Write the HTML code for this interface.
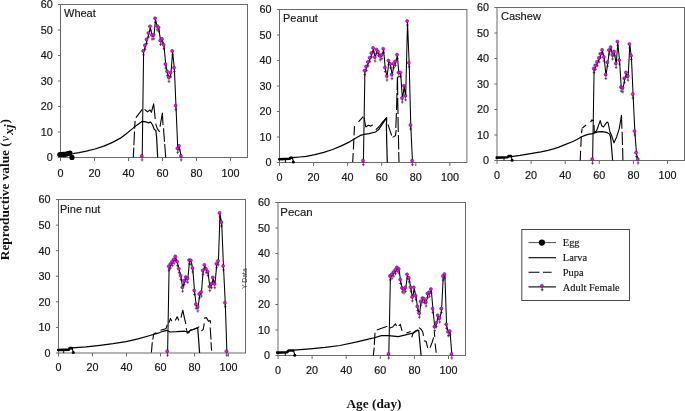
<!DOCTYPE html>
<html lang="en"><head><meta charset="utf-8"><title>Reproductive value by age</title>
<style>html,body{margin:0;padding:0;background:#fff}body{width:685px;height:411px;overflow:hidden}svg{display:block}.t{font-family:"Liberation Sans",Arial,sans-serif;font-size:10.8px;fill:#111;stroke:#222;stroke-width:0.2px}.pl{font-family:"Liberation Sans",Arial,sans-serif;font-size:11px;fill:#111;stroke:#222;stroke-width:0.15px}.s{font-family:"Liberation Serif","Times New Roman",serif;fill:#111}</style></head><body>
<svg width="685" height="411" viewBox="0 0 685 411">
<rect width="685" height="411" fill="#fff"/>
<g>
<rect x="60.5" y="4.5" width="187" height="153" fill="none" stroke="#6a6a6a" stroke-width="1"/>
<path d="M60.5 157.5h-2.6M60.5 132h-2.6M60.5 106.5h-2.6M60.5 81h-2.6M60.5 55.5h-2.6M60.5 30h-2.6M60.5 4.5h-2.6M60.5 157.5v3.5M94.5 157.5v3.5M128.5 157.5v3.5M162.5 157.5v3.5M196.5 157.5v3.5M230.5 157.5v3.5" stroke="#6a6a6a" stroke-width="1" fill="none"/>
<text class="t" x="52.7" y="161.4" text-anchor="end">0</text>
<text class="t" x="52.7" y="135.9" text-anchor="end">10</text>
<text class="t" x="52.7" y="110.4" text-anchor="end">20</text>
<text class="t" x="52.7" y="84.9" text-anchor="end">30</text>
<text class="t" x="52.7" y="59.4" text-anchor="end">40</text>
<text class="t" x="52.7" y="33.9" text-anchor="end">50</text>
<text class="t" x="52.7" y="8.4" text-anchor="end">60</text>
<text class="t" x="60.5" y="176.9" text-anchor="middle">0</text>
<text class="t" x="94.5" y="176.9" text-anchor="middle">20</text>
<text class="t" x="128.5" y="176.9" text-anchor="middle">40</text>
<text class="t" x="162.5" y="176.9" text-anchor="middle">60</text>
<text class="t" x="196.5" y="176.9" text-anchor="middle">80</text>
<text class="t" x="230.5" y="176.9" text-anchor="middle">100</text>
<text class="pl" x="64" y="16.6" style="font-size:11px">Wheat</text>
<polyline points="59.8,154.5 61.5,154.5 63.2,154.4 64.9,154.3 66.6,154 68.3,153.5 70,153.2 72,157.4" fill="none" stroke="#000" stroke-width="0.8"/>
<circle cx="59.8" cy="154.5" r="2.6" fill="#000"/>
<circle cx="61.5" cy="154.5" r="2.6" fill="#000"/>
<circle cx="63.2" cy="154.4" r="2.6" fill="#000"/>
<circle cx="64.9" cy="154.3" r="2.6" fill="#000"/>
<circle cx="66.6" cy="154" r="2.6" fill="#000"/>
<circle cx="68.3" cy="153.5" r="2.6" fill="#000"/>
<circle cx="70" cy="153.2" r="2.6" fill="#000"/>
<circle cx="72" cy="157.4" r="2.6" fill="#000"/>
<polyline points="72.7,153.6 79,152.6 86.3,151.2 95,149 103.8,146.1 112.6,142.4 121.3,137.6 126,134 130.1,130.6 137.1,124.9 142.3,121.3 145.8,121.9 148.3,122.8 150.8,122.2 152.6,125 154.2,129.2 155.8,130.4 156.6,137.2 157.7,157.5" fill="none" stroke="#000" stroke-width="1.2" stroke-linejoin="round"/>
<path d="M133.3 157.5L133.8 147.6M133.9 145.3L134.5 131.6M134.6 128.6L135.1 121M135.9 117.6L142.3 109.3M144.5 109.6L145.4 110L147.6 111.9L149.9 109.8L151.4 112.3L153.7 103.7L155.2 119.1M155.6 123.6L157.4 128.9L159.7 131.9M160 126.7L162.4 113.1L163 125M163.5 128.2L164.5 141.7M164.7 144L165.7 157.5" fill="none" stroke="#000" stroke-width="1.1" stroke-linejoin="round"/>
<polyline points="142.2,157.1 143.6,52.1 145.3,46.4 146.9,40.6 148.7,34.2 150.4,27.5 152.2,36.2 154,36 155.5,19.4 157.3,27 158.9,28.4 160.6,41.6 162.4,40.1 164,45.9 165.8,65.2 167.5,72.6 169.1,78.5 170.9,73.9 172.6,52.1 174.4,68.8 176,106.8 177.8,149.5 179.4,147.1 181.3,157.1" fill="none" stroke="#000" stroke-width="1.05" stroke-linejoin="round"/>
<path d="M142.1 157.5v4M140.8 159.9h2.6M143.5 52.5v4M142.2 54.9h2.6M145.2 46.8v4M143.9 49.2h2.6M146.8 41v4M145.5 43.4h2.6M148.6 34.6v4M147.3 37h2.6M150.3 27.9v4M149 30.3h2.6M152.1 36.6v4M150.8 39h2.6M153.9 36.4v4M152.6 38.8h2.6M155.4 19.8v4M154.1 22.2h2.6M157.2 27.4v4M155.9 29.8h2.6M158.8 28.8v4M157.5 31.2h2.6M160.5 42v4M159.2 44.4h2.6M162.3 40.5v4M161 42.9h2.6M163.9 46.3v4M162.6 48.7h2.6M165.7 65.6v4M164.4 68h2.6M167.4 73v4M166.1 75.4h2.6M169 78.9v4M167.7 81.3h2.6M170.8 74.3v4M169.5 76.7h2.6M172.5 52.5v4M171.2 54.9h2.6M174.3 69.2v4M173 71.6h2.6M175.9 107.2v4M174.6 109.6h2.6M177.7 149.9v4M176.4 152.3h2.6M179.3 147.5v4M178 149.9h2.6M181.2 157.5v4M179.9 159.9h2.6" stroke="#111" stroke-width="0.65" fill="none"/>
<circle cx="141.8" cy="155.9" r="1.55" fill="#f0f" stroke="#404" stroke-width="0.45"/>
<circle cx="143.2" cy="50.9" r="1.55" fill="#f0f" stroke="#404" stroke-width="0.45"/>
<circle cx="144.9" cy="45.2" r="1.55" fill="#f0f" stroke="#404" stroke-width="0.45"/>
<circle cx="146.5" cy="39.4" r="1.55" fill="#f0f" stroke="#404" stroke-width="0.45"/>
<circle cx="148.3" cy="33" r="1.55" fill="#f0f" stroke="#404" stroke-width="0.45"/>
<circle cx="150" cy="26.3" r="1.55" fill="#f0f" stroke="#404" stroke-width="0.45"/>
<circle cx="151.8" cy="35" r="1.55" fill="#f0f" stroke="#404" stroke-width="0.45"/>
<circle cx="153.6" cy="34.8" r="1.55" fill="#f0f" stroke="#404" stroke-width="0.45"/>
<circle cx="155.1" cy="18.2" r="1.55" fill="#f0f" stroke="#404" stroke-width="0.45"/>
<circle cx="156.9" cy="25.8" r="1.55" fill="#f0f" stroke="#404" stroke-width="0.45"/>
<circle cx="158.5" cy="27.2" r="1.55" fill="#f0f" stroke="#404" stroke-width="0.45"/>
<circle cx="160.2" cy="40.4" r="1.55" fill="#f0f" stroke="#404" stroke-width="0.45"/>
<circle cx="162" cy="38.9" r="1.55" fill="#f0f" stroke="#404" stroke-width="0.45"/>
<circle cx="163.6" cy="44.7" r="1.55" fill="#f0f" stroke="#404" stroke-width="0.45"/>
<circle cx="165.4" cy="64" r="1.55" fill="#f0f" stroke="#404" stroke-width="0.45"/>
<circle cx="167.1" cy="71.4" r="1.55" fill="#f0f" stroke="#404" stroke-width="0.45"/>
<circle cx="168.7" cy="77.3" r="1.55" fill="#f0f" stroke="#404" stroke-width="0.45"/>
<circle cx="170.5" cy="72.7" r="1.55" fill="#f0f" stroke="#404" stroke-width="0.45"/>
<circle cx="172.2" cy="50.9" r="1.55" fill="#f0f" stroke="#404" stroke-width="0.45"/>
<circle cx="174" cy="67.6" r="1.55" fill="#f0f" stroke="#404" stroke-width="0.45"/>
<circle cx="175.6" cy="105.6" r="1.55" fill="#f0f" stroke="#404" stroke-width="0.45"/>
<circle cx="177.4" cy="148.3" r="1.55" fill="#f0f" stroke="#404" stroke-width="0.45"/>
<circle cx="179" cy="145.9" r="1.55" fill="#f0f" stroke="#404" stroke-width="0.45"/>
<circle cx="180.9" cy="155.9" r="1.55" fill="#f0f" stroke="#404" stroke-width="0.45"/>
</g>
<g>
<rect x="279.5" y="9.5" width="187.4" height="153" fill="none" stroke="#6a6a6a" stroke-width="1"/>
<path d="M279.5 162.5h-2.6M279.5 137h-2.6M279.5 111.5h-2.6M279.5 86h-2.6M279.5 60.5h-2.6M279.5 35h-2.6M279.5 9.5h-2.6M279.5 162.5v3.5M313.6 162.5v3.5M347.6 162.5v3.5M381.7 162.5v3.5M415.8 162.5v3.5M449.9 162.5v3.5" stroke="#6a6a6a" stroke-width="1" fill="none"/>
<text class="t" x="271.4" y="166.4" text-anchor="end">0</text>
<text class="t" x="271.4" y="140.9" text-anchor="end">10</text>
<text class="t" x="271.4" y="115.4" text-anchor="end">20</text>
<text class="t" x="271.4" y="89.9" text-anchor="end">30</text>
<text class="t" x="271.4" y="64.4" text-anchor="end">40</text>
<text class="t" x="271.4" y="38.9" text-anchor="end">50</text>
<text class="t" x="271.4" y="13.4" text-anchor="end">60</text>
<text class="t" x="279.5" y="181" text-anchor="middle">0</text>
<text class="t" x="313.6" y="181" text-anchor="middle">20</text>
<text class="t" x="347.6" y="181" text-anchor="middle">40</text>
<text class="t" x="381.7" y="181" text-anchor="middle">60</text>
<text class="t" x="415.8" y="181" text-anchor="middle">80</text>
<text class="t" x="449.9" y="181" text-anchor="middle">100</text>
<text class="pl" x="283" y="21.5" style="font-size:11px">Peanut</text>
<path d="M279.2 159.2L289.6 158.8L290.3 157.7H292" fill="none" stroke="#000" stroke-width="2.6" stroke-linejoin="round" stroke-linecap="round"/>
<path d="M292.2 157.2L293.4 162" fill="none" stroke="#000" stroke-width="1.1"/>
<circle cx="293.4" cy="162" r="1.5" fill="#000"/>
<path d="M285.4 159.7V162.5" stroke="#000" stroke-width="1" fill="none"/>
<polyline points="292.4,157.7 300,157 306.3,156.3 315,154.7 323.8,152.4 332.6,149.5 341.3,145.9 350.1,141.6 355,138.6 360.3,135.4 364.1,134.3 369.1,133.6 375.5,132 378.7,129.6 382.8,123.4 385.2,119.8 386.7,117.6 386.4,125 386.7,141 387.3,162.5" fill="none" stroke="#000" stroke-width="1.2" stroke-linejoin="round"/>
<path d="M352.7 162L353.2 153M353.4 149.5L353.9 138.5M354 135.4L354.5 126.1M358.5 121.8L363.2 116.6M364 117.5L365.8 127L368.3 125.3L370.9 126.1L372.7 124.7M375.8 129.6L378.7 127L382.2 122.7L386.5 117.5M387.9 124.4L391.7 135.6M392.6 137.4L395.5 135.6L396.2 130M395.8 128L396.4 113M396.5 110L397 93M397.1 90L397.4 77M397.5 77L397.7 95M397.7 98L398 114M398 117L398.3 132M398.4 135L398.7 149.5M398.7 152L399 162" fill="none" stroke="#000" stroke-width="1.1" stroke-linejoin="round"/>
<polyline points="363.4,161.8 364.9,71.8 366.5,67.6 368.3,63.1 370,58.9 371.7,54.2 373.5,49.1 375.1,58.2 376.8,50.7 378.5,52.8 380.3,57 382,55.9 383.6,49.9 385.3,68.7 387.1,77.2 388.8,61.7 390.6,65 392.1,75.8 393.9,64.9 395.6,62.5 397.4,55.8 398.9,73.7 400.7,73.7 402.4,99.2 404.2,87 405.7,97 407.5,22.3 409.2,64 410.8,126.2 412.5,161.8" fill="none" stroke="#000" stroke-width="1.05" stroke-linejoin="round"/>
<path d="M363.3 162.2v4M362 164.6h2.6M364.8 72.2v4M363.5 74.6h2.6M366.4 68v4M365.1 70.4h2.6M368.2 63.5v4M366.9 65.9h2.6M369.9 59.3v4M368.6 61.7h2.6M371.6 54.6v4M370.3 57h2.6M373.4 49.5v4M372.1 51.9h2.6M375 58.6v4M373.7 61h2.6M376.7 51.1v4M375.4 53.5h2.6M378.4 53.2v4M377.1 55.6h2.6M380.2 57.4v4M378.9 59.8h2.6M381.9 56.3v4M380.6 58.7h2.6M383.5 50.3v4M382.2 52.7h2.6M385.2 69.1v4M383.9 71.5h2.6M387 77.6v4M385.7 80h2.6M388.7 62.1v4M387.4 64.5h2.6M390.5 65.4v4M389.2 67.8h2.6M392 76.2v4M390.7 78.6h2.6M393.8 65.3v4M392.5 67.7h2.6M395.5 62.9v4M394.2 65.3h2.6M397.3 56.2v4M396 58.6h2.6M398.8 74.1v4M397.5 76.5h2.6M400.6 74.1v4M399.3 76.5h2.6M402.3 99.6v4M401 102h2.6M404.1 87.4v4M402.8 89.8h2.6M405.6 97.4v4M404.3 99.8h2.6M407.4 22.7v4M406.1 25.1h2.6M409.1 64.4v4M407.8 66.8h2.6M410.7 126.6v4M409.4 129h2.6M412.4 162.2v4M411.1 164.6h2.6" stroke="#111" stroke-width="0.65" fill="none"/>
<circle cx="363" cy="160.6" r="1.55" fill="#f0f" stroke="#404" stroke-width="0.45"/>
<circle cx="364.5" cy="70.6" r="1.55" fill="#f0f" stroke="#404" stroke-width="0.45"/>
<circle cx="366.1" cy="66.4" r="1.55" fill="#f0f" stroke="#404" stroke-width="0.45"/>
<circle cx="367.9" cy="61.9" r="1.55" fill="#f0f" stroke="#404" stroke-width="0.45"/>
<circle cx="369.6" cy="57.7" r="1.55" fill="#f0f" stroke="#404" stroke-width="0.45"/>
<circle cx="371.3" cy="53" r="1.55" fill="#f0f" stroke="#404" stroke-width="0.45"/>
<circle cx="373.1" cy="47.9" r="1.55" fill="#f0f" stroke="#404" stroke-width="0.45"/>
<circle cx="374.7" cy="57" r="1.55" fill="#f0f" stroke="#404" stroke-width="0.45"/>
<circle cx="376.4" cy="49.5" r="1.55" fill="#f0f" stroke="#404" stroke-width="0.45"/>
<circle cx="378.1" cy="51.6" r="1.55" fill="#f0f" stroke="#404" stroke-width="0.45"/>
<circle cx="379.9" cy="55.8" r="1.55" fill="#f0f" stroke="#404" stroke-width="0.45"/>
<circle cx="381.6" cy="54.7" r="1.55" fill="#f0f" stroke="#404" stroke-width="0.45"/>
<circle cx="383.2" cy="48.7" r="1.55" fill="#f0f" stroke="#404" stroke-width="0.45"/>
<circle cx="384.9" cy="67.5" r="1.55" fill="#f0f" stroke="#404" stroke-width="0.45"/>
<circle cx="386.7" cy="76" r="1.55" fill="#f0f" stroke="#404" stroke-width="0.45"/>
<circle cx="388.4" cy="60.5" r="1.55" fill="#f0f" stroke="#404" stroke-width="0.45"/>
<circle cx="390.2" cy="63.8" r="1.55" fill="#f0f" stroke="#404" stroke-width="0.45"/>
<circle cx="391.7" cy="74.6" r="1.55" fill="#f0f" stroke="#404" stroke-width="0.45"/>
<circle cx="393.5" cy="63.7" r="1.55" fill="#f0f" stroke="#404" stroke-width="0.45"/>
<circle cx="395.2" cy="61.3" r="1.55" fill="#f0f" stroke="#404" stroke-width="0.45"/>
<circle cx="397" cy="54.6" r="1.55" fill="#f0f" stroke="#404" stroke-width="0.45"/>
<circle cx="398.5" cy="72.5" r="1.55" fill="#f0f" stroke="#404" stroke-width="0.45"/>
<circle cx="400.3" cy="72.5" r="1.55" fill="#f0f" stroke="#404" stroke-width="0.45"/>
<circle cx="402" cy="98" r="1.55" fill="#f0f" stroke="#404" stroke-width="0.45"/>
<circle cx="403.8" cy="85.8" r="1.55" fill="#f0f" stroke="#404" stroke-width="0.45"/>
<circle cx="405.3" cy="95.8" r="1.55" fill="#f0f" stroke="#404" stroke-width="0.45"/>
<circle cx="407.1" cy="21.1" r="1.55" fill="#f0f" stroke="#404" stroke-width="0.45"/>
<circle cx="408.8" cy="62.8" r="1.55" fill="#f0f" stroke="#404" stroke-width="0.45"/>
<circle cx="410.4" cy="125" r="1.55" fill="#f0f" stroke="#404" stroke-width="0.45"/>
<circle cx="412.1" cy="160.6" r="1.55" fill="#f0f" stroke="#404" stroke-width="0.45"/>
</g>
<g>
<rect x="497" y="7.5" width="187.5" height="153" fill="none" stroke="#6a6a6a" stroke-width="1"/>
<path d="M497 160.5h-2.6M497 135h-2.6M497 109.5h-2.6M497 84h-2.6M497 58.5h-2.6M497 33h-2.6M497 7.5h-2.6M497 160.5v3.5M531.1 160.5v3.5M565.2 160.5v3.5M599.3 160.5v3.5M633.4 160.5v3.5M667.5 160.5v3.5" stroke="#6a6a6a" stroke-width="1" fill="none"/>
<text class="t" x="488.9" y="164.4" text-anchor="end">0</text>
<text class="t" x="488.9" y="138.9" text-anchor="end">10</text>
<text class="t" x="488.9" y="113.4" text-anchor="end">20</text>
<text class="t" x="488.9" y="87.9" text-anchor="end">30</text>
<text class="t" x="488.9" y="62.4" text-anchor="end">40</text>
<text class="t" x="488.9" y="36.9" text-anchor="end">50</text>
<text class="t" x="488.9" y="11.4" text-anchor="end">60</text>
<text class="t" x="497" y="179" text-anchor="middle">0</text>
<text class="t" x="531.1" y="179" text-anchor="middle">20</text>
<text class="t" x="565.2" y="179" text-anchor="middle">40</text>
<text class="t" x="599.3" y="179" text-anchor="middle">60</text>
<text class="t" x="633.4" y="179" text-anchor="middle">80</text>
<text class="t" x="667.5" y="179" text-anchor="middle">100</text>
<text class="pl" x="500.9" y="19.5" style="font-size:11.1px">Cashew</text>
<path d="M496.7 157.6L507.6 157.2L508.6 156.1H510.8" fill="none" stroke="#000" stroke-width="2.6" stroke-linejoin="round" stroke-linecap="round"/>
<path d="M511 155.6L512.1 160.2" fill="none" stroke="#000" stroke-width="1.1"/>
<circle cx="512.1" cy="160.2" r="1.5" fill="#000"/>
<path d="M504 158.1V160.5" stroke="#000" stroke-width="1" fill="none"/>
<polyline points="511.5,156.6 520,155.4 532,153.4 541,151.8 548,150.3 553.5,148.9 558.3,147.4 564.4,144.9 572.3,141.8 577,139.5 581.1,137 585,135.4 588.1,134.4 592.5,133.6 597.7,131.9 602.1,131.6 606.5,132.3 609.5,134 610.6,137 611.6,148 612.6,160.5" fill="none" stroke="#000" stroke-width="1.2" stroke-linejoin="round"/>
<path d="M580.2 160.5L580.6 150.8M580.8 146.8L581.3 136.5M581.5 133.3L582.1 128.6M582.4 128L586.1 125M590.6 122.1L592 119.9L593.2 121M594 125L594.3 132.5L596.5 131L600.2 120.6L601.7 125.8L603.5 127L606.9 122.1L608.1 122.8L609.9 131.7L611.4 135L614 142.9L616.6 137L619.2 128.8L621.5 115.4L621.9 128.8M622.1 131.7L622.5 145.1M622.6 148.1L622.9 160.2" fill="none" stroke="#000" stroke-width="1.1" stroke-linejoin="round"/>
<polyline points="592.6,160.3 594.1,69.7 595.7,66.5 597.4,62.9 599.2,59.1 600.7,55 602.5,51 604.2,58.1 606,75.7 607.7,63.4 609.3,51.2 611,48.3 612.8,56.2 614.5,52.6 616.2,64.6 617.8,42.8 619.6,61.3 621.3,88.3 623,89 624.6,79.5 626.4,73.6 628.1,77.3 629.8,45.2 631.4,56.7 633.1,95.2 634.9,132.2 636.5,153.8 638.2,160.2" fill="none" stroke="#000" stroke-width="1.05" stroke-linejoin="round"/>
<path d="M592.5 160.7v4M591.2 163.1h2.6M594 70.1v4M592.7 72.5h2.6M595.6 66.9v4M594.3 69.3h2.6M597.3 63.3v4M596 65.7h2.6M599.1 59.5v4M597.8 61.9h2.6M600.6 55.4v4M599.3 57.8h2.6M602.4 51.4v4M601.1 53.8h2.6M604.1 58.5v4M602.8 60.9h2.6M605.9 76.1v4M604.6 78.5h2.6M607.6 63.8v4M606.3 66.2h2.6M609.2 51.6v4M607.9 54h2.6M610.9 48.7v4M609.6 51.1h2.6M612.7 56.6v4M611.4 59h2.6M614.4 53v4M613.1 55.4h2.6M616.1 65v4M614.8 67.4h2.6M617.7 43.2v4M616.4 45.6h2.6M619.5 61.7v4M618.2 64.1h2.6M621.2 88.7v4M619.9 91.1h2.6M622.9 89.4v4M621.6 91.8h2.6M624.5 79.9v4M623.2 82.3h2.6M626.3 74v4M625 76.4h2.6M628 77.7v4M626.7 80.1h2.6M629.7 45.6v4M628.4 48h2.6M631.3 57.1v4M630 59.5h2.6M633 95.6v4M631.7 98h2.6M634.8 132.6v4M633.5 135h2.6M636.4 154.2v4M635.1 156.6h2.6M638.1 160.6v4M636.8 163h2.6" stroke="#111" stroke-width="0.65" fill="none"/>
<circle cx="592.2" cy="159.1" r="1.55" fill="#f0f" stroke="#404" stroke-width="0.45"/>
<circle cx="593.7" cy="68.5" r="1.55" fill="#f0f" stroke="#404" stroke-width="0.45"/>
<circle cx="595.3" cy="65.3" r="1.55" fill="#f0f" stroke="#404" stroke-width="0.45"/>
<circle cx="597" cy="61.7" r="1.55" fill="#f0f" stroke="#404" stroke-width="0.45"/>
<circle cx="598.8" cy="57.9" r="1.55" fill="#f0f" stroke="#404" stroke-width="0.45"/>
<circle cx="600.3" cy="53.8" r="1.55" fill="#f0f" stroke="#404" stroke-width="0.45"/>
<circle cx="602.1" cy="49.8" r="1.55" fill="#f0f" stroke="#404" stroke-width="0.45"/>
<circle cx="603.8" cy="56.9" r="1.55" fill="#f0f" stroke="#404" stroke-width="0.45"/>
<circle cx="605.6" cy="74.5" r="1.55" fill="#f0f" stroke="#404" stroke-width="0.45"/>
<circle cx="607.3" cy="62.2" r="1.55" fill="#f0f" stroke="#404" stroke-width="0.45"/>
<circle cx="608.9" cy="50" r="1.55" fill="#f0f" stroke="#404" stroke-width="0.45"/>
<circle cx="610.6" cy="47.1" r="1.55" fill="#f0f" stroke="#404" stroke-width="0.45"/>
<circle cx="612.4" cy="55" r="1.55" fill="#f0f" stroke="#404" stroke-width="0.45"/>
<circle cx="614.1" cy="51.4" r="1.55" fill="#f0f" stroke="#404" stroke-width="0.45"/>
<circle cx="615.8" cy="63.4" r="1.55" fill="#f0f" stroke="#404" stroke-width="0.45"/>
<circle cx="617.4" cy="41.6" r="1.55" fill="#f0f" stroke="#404" stroke-width="0.45"/>
<circle cx="619.2" cy="60.1" r="1.55" fill="#f0f" stroke="#404" stroke-width="0.45"/>
<circle cx="620.9" cy="87.1" r="1.55" fill="#f0f" stroke="#404" stroke-width="0.45"/>
<circle cx="622.6" cy="87.8" r="1.55" fill="#f0f" stroke="#404" stroke-width="0.45"/>
<circle cx="624.2" cy="78.3" r="1.55" fill="#f0f" stroke="#404" stroke-width="0.45"/>
<circle cx="626" cy="72.4" r="1.55" fill="#f0f" stroke="#404" stroke-width="0.45"/>
<circle cx="627.7" cy="76.1" r="1.55" fill="#f0f" stroke="#404" stroke-width="0.45"/>
<circle cx="629.4" cy="44" r="1.55" fill="#f0f" stroke="#404" stroke-width="0.45"/>
<circle cx="631" cy="55.5" r="1.55" fill="#f0f" stroke="#404" stroke-width="0.45"/>
<circle cx="632.7" cy="94" r="1.55" fill="#f0f" stroke="#404" stroke-width="0.45"/>
<circle cx="634.5" cy="131" r="1.55" fill="#f0f" stroke="#404" stroke-width="0.45"/>
<circle cx="636.1" cy="152.6" r="1.55" fill="#f0f" stroke="#404" stroke-width="0.45"/>
<circle cx="637.8" cy="159" r="1.55" fill="#f0f" stroke="#404" stroke-width="0.45"/>
</g>
<g>
<rect x="58.5" y="199.5" width="187" height="153.5" fill="none" stroke="#6a6a6a" stroke-width="1"/>
<path d="M58.5 353h-2.6M58.5 327.4h-2.6M58.5 301.8h-2.6M58.5 276.2h-2.6M58.5 250.7h-2.6M58.5 225.1h-2.6M58.5 199.5h-2.6M58.5 353v3.5M92.5 353v3.5M126.5 353v3.5M160.5 353v3.5M194.5 353v3.5M228.5 353v3.5" stroke="#6a6a6a" stroke-width="1" fill="none"/>
<text class="t" x="50.5" y="356.9" text-anchor="end">0</text>
<text class="t" x="50.5" y="331.3" text-anchor="end">10</text>
<text class="t" x="50.5" y="305.7" text-anchor="end">20</text>
<text class="t" x="50.5" y="280.1" text-anchor="end">30</text>
<text class="t" x="50.5" y="254.6" text-anchor="end">40</text>
<text class="t" x="50.5" y="229" text-anchor="end">50</text>
<text class="t" x="50.5" y="203.4" text-anchor="end">60</text>
<text class="t" x="58.5" y="371.3" text-anchor="middle">0</text>
<text class="t" x="92.5" y="371.3" text-anchor="middle">20</text>
<text class="t" x="126.5" y="371.3" text-anchor="middle">40</text>
<text class="t" x="160.5" y="371.3" text-anchor="middle">60</text>
<text class="t" x="194.5" y="371.3" text-anchor="middle">80</text>
<text class="t" x="228.5" y="371.3" text-anchor="middle">100</text>
<text class="pl" x="60" y="212.7" style="font-size:11px">Pine nut</text>
<path d="M58.2 350L69 349.6L69.6 348.1H71.8" fill="none" stroke="#000" stroke-width="2.6" stroke-linejoin="round" stroke-linecap="round"/>
<path d="M72 347.6L73.3 352.4" fill="none" stroke="#000" stroke-width="1.1"/>
<circle cx="73.3" cy="352.4" r="1.5" fill="#000"/>
<path d="M63.7 350.5V353" stroke="#000" stroke-width="1" fill="none"/>
<polyline points="72.4,347.9 86,346.9 100,345.3 113,343.6 126,341.6 138,338.8 150,335.5 158,333.2 163,331.3 166.6,330.3 170.1,332 176.3,331.7 181,331.3 185,331.2 187.7,332.2 190.3,330.4 194,329.2 197.7,328 198.5,338 199.6,353" fill="none" stroke="#000" stroke-width="1.2" stroke-linejoin="round"/>
<path d="M151.4 352.5L152.3 342.3M152.8 339.5L153.7 333.9L156.3 332.7M160.5 330.3L164.8 328.9L166.2 328.2L167.3 324.7M169 322.6L170.4 318.3L171.8 321.2M175.3 320.5L177.2 316.7L178.9 320.5M181 317.6L182.8 310.2L184.5 318.3L185.9 324M186.2 328.2L187.3 333.2L189 332.5L190.2 330.3L193 329.5L196 328.3L199.3 326.8M201.4 331L203.1 329.6L204.3 323.3M204 318.3L206.4 317.6L208.5 321.2L210.2 320.5L210.6 323.3M210.2 327.5L211 339.5M211 342.3L211.6 350.8" fill="none" stroke="#000" stroke-width="1.1" stroke-linejoin="round"/>
<polyline points="167.6,352.4 169.1,267.5 170.7,265.2 172.4,262.8 174.2,260.4 175.7,257.6 177.5,262.8 179.2,269.9 181,276.7 182.7,288.4 184.3,281.8 186,278.3 187.8,279.4 189.5,261.2 191.2,261.5 192.8,269.1 194.6,291.7 196.3,305.5 198,308.2 199.6,295.2 201.4,293.3 203.1,271.5 204.8,266 206.4,269.9 208.1,272.8 209.9,287.8 211.6,284.9 213.2,278.6 214.9,284.9 216.7,264.9 218.4,262 220,214.1 221.7,223.3 223.5,267.1 225.3,303.9 226.9,352.4" fill="none" stroke="#000" stroke-width="1.05" stroke-linejoin="round"/>
<path d="M167.5 352.8v4M166.2 355.2h2.6M169 267.9v4M167.7 270.3h2.6M170.6 265.6v4M169.3 268h2.6M172.3 263.2v4M171 265.6h2.6M174.1 260.8v4M172.8 263.2h2.6M175.6 258v4M174.3 260.4h2.6M177.4 263.2v4M176.1 265.6h2.6M179.1 270.3v4M177.8 272.7h2.6M180.9 277.1v4M179.6 279.5h2.6M182.6 288.8v4M181.3 291.2h2.6M184.2 282.2v4M182.9 284.6h2.6M185.9 278.7v4M184.6 281.1h2.6M187.7 279.8v4M186.4 282.2h2.6M189.4 261.6v4M188.1 264h2.6M191.1 261.9v4M189.8 264.3h2.6M192.7 269.5v4M191.4 271.9h2.6M194.5 292.1v4M193.2 294.5h2.6M196.2 305.9v4M194.9 308.3h2.6M197.9 308.6v4M196.6 311h2.6M199.5 295.6v4M198.2 298h2.6M201.3 293.7v4M200 296.1h2.6M203 271.9v4M201.7 274.3h2.6M204.7 266.4v4M203.4 268.8h2.6M206.3 270.3v4M205 272.7h2.6M208 273.2v4M206.7 275.6h2.6M209.8 288.2v4M208.5 290.6h2.6M211.5 285.3v4M210.2 287.7h2.6M213.1 279v4M211.8 281.4h2.6M214.8 285.3v4M213.5 287.7h2.6M216.6 265.3v4M215.3 267.7h2.6M218.3 262.4v4M217 264.8h2.6M219.9 214.5v4M218.6 216.9h2.6M221.6 223.7v4M220.3 226.1h2.6M223.4 267.5v4M222.1 269.9h2.6M225.2 304.3v4M223.9 306.7h2.6M226.8 352.8v4M225.5 355.2h2.6" stroke="#111" stroke-width="0.65" fill="none"/>
<circle cx="167.2" cy="351.2" r="1.55" fill="#f0f" stroke="#404" stroke-width="0.45"/>
<circle cx="168.7" cy="266.3" r="1.55" fill="#f0f" stroke="#404" stroke-width="0.45"/>
<circle cx="170.3" cy="264" r="1.55" fill="#f0f" stroke="#404" stroke-width="0.45"/>
<circle cx="172" cy="261.6" r="1.55" fill="#f0f" stroke="#404" stroke-width="0.45"/>
<circle cx="173.8" cy="259.2" r="1.55" fill="#f0f" stroke="#404" stroke-width="0.45"/>
<circle cx="175.3" cy="256.4" r="1.55" fill="#f0f" stroke="#404" stroke-width="0.45"/>
<circle cx="177.1" cy="261.6" r="1.55" fill="#f0f" stroke="#404" stroke-width="0.45"/>
<circle cx="178.8" cy="268.7" r="1.55" fill="#f0f" stroke="#404" stroke-width="0.45"/>
<circle cx="180.6" cy="275.5" r="1.55" fill="#f0f" stroke="#404" stroke-width="0.45"/>
<circle cx="182.3" cy="287.2" r="1.55" fill="#f0f" stroke="#404" stroke-width="0.45"/>
<circle cx="183.9" cy="280.6" r="1.55" fill="#f0f" stroke="#404" stroke-width="0.45"/>
<circle cx="185.6" cy="277.1" r="1.55" fill="#f0f" stroke="#404" stroke-width="0.45"/>
<circle cx="187.4" cy="278.2" r="1.55" fill="#f0f" stroke="#404" stroke-width="0.45"/>
<circle cx="189.1" cy="260" r="1.55" fill="#f0f" stroke="#404" stroke-width="0.45"/>
<circle cx="190.8" cy="260.3" r="1.55" fill="#f0f" stroke="#404" stroke-width="0.45"/>
<circle cx="192.4" cy="267.9" r="1.55" fill="#f0f" stroke="#404" stroke-width="0.45"/>
<circle cx="194.2" cy="290.5" r="1.55" fill="#f0f" stroke="#404" stroke-width="0.45"/>
<circle cx="195.9" cy="304.3" r="1.55" fill="#f0f" stroke="#404" stroke-width="0.45"/>
<circle cx="197.6" cy="307" r="1.55" fill="#f0f" stroke="#404" stroke-width="0.45"/>
<circle cx="199.2" cy="294" r="1.55" fill="#f0f" stroke="#404" stroke-width="0.45"/>
<circle cx="201" cy="292.1" r="1.55" fill="#f0f" stroke="#404" stroke-width="0.45"/>
<circle cx="202.7" cy="270.3" r="1.55" fill="#f0f" stroke="#404" stroke-width="0.45"/>
<circle cx="204.4" cy="264.8" r="1.55" fill="#f0f" stroke="#404" stroke-width="0.45"/>
<circle cx="206" cy="268.7" r="1.55" fill="#f0f" stroke="#404" stroke-width="0.45"/>
<circle cx="207.7" cy="271.6" r="1.55" fill="#f0f" stroke="#404" stroke-width="0.45"/>
<circle cx="209.5" cy="286.6" r="1.55" fill="#f0f" stroke="#404" stroke-width="0.45"/>
<circle cx="211.2" cy="283.7" r="1.55" fill="#f0f" stroke="#404" stroke-width="0.45"/>
<circle cx="212.8" cy="277.4" r="1.55" fill="#f0f" stroke="#404" stroke-width="0.45"/>
<circle cx="214.5" cy="283.7" r="1.55" fill="#f0f" stroke="#404" stroke-width="0.45"/>
<circle cx="216.3" cy="263.7" r="1.55" fill="#f0f" stroke="#404" stroke-width="0.45"/>
<circle cx="218" cy="260.8" r="1.55" fill="#f0f" stroke="#404" stroke-width="0.45"/>
<circle cx="219.6" cy="212.9" r="1.55" fill="#f0f" stroke="#404" stroke-width="0.45"/>
<circle cx="221.3" cy="222.1" r="1.55" fill="#f0f" stroke="#404" stroke-width="0.45"/>
<circle cx="223.1" cy="265.9" r="1.55" fill="#f0f" stroke="#404" stroke-width="0.45"/>
<circle cx="224.9" cy="302.7" r="1.55" fill="#f0f" stroke="#404" stroke-width="0.45"/>
<circle cx="226.5" cy="351.2" r="1.55" fill="#f0f" stroke="#404" stroke-width="0.45"/>
</g>
<g>
<rect x="278" y="202.5" width="187.5" height="153" fill="none" stroke="#6a6a6a" stroke-width="1"/>
<path d="M278 355.5h-2.6M278 330h-2.6M278 304.5h-2.6M278 279h-2.6M278 253.5h-2.6M278 228h-2.6M278 202.5h-2.6M278 355.5v3.5M312.1 355.5v3.5M346.2 355.5v3.5M380.3 355.5v3.5M414.4 355.5v3.5M448.5 355.5v3.5" stroke="#6a6a6a" stroke-width="1" fill="none"/>
<text class="t" x="270.1" y="359.4" text-anchor="end">0</text>
<text class="t" x="270.1" y="333.9" text-anchor="end">10</text>
<text class="t" x="270.1" y="308.4" text-anchor="end">20</text>
<text class="t" x="270.1" y="282.9" text-anchor="end">30</text>
<text class="t" x="270.1" y="257.4" text-anchor="end">40</text>
<text class="t" x="270.1" y="231.9" text-anchor="end">50</text>
<text class="t" x="270.1" y="206.4" text-anchor="end">60</text>
<text class="t" x="278" y="374" text-anchor="middle">0</text>
<text class="t" x="312.1" y="374" text-anchor="middle">20</text>
<text class="t" x="346.2" y="374" text-anchor="middle">40</text>
<text class="t" x="380.3" y="374" text-anchor="middle">60</text>
<text class="t" x="414.4" y="374" text-anchor="middle">80</text>
<text class="t" x="448.5" y="374" text-anchor="middle">100</text>
<text class="pl" x="280.3" y="215.5" style="font-size:11.4px">Pecan</text>
<path d="M277.1 352.6L287.2 352.2L288.6 350.5H293.2" fill="none" stroke="#000" stroke-width="2.6" stroke-linejoin="round" stroke-linecap="round"/>
<path d="M293.4 350L294.8 355.2" fill="none" stroke="#000" stroke-width="1.1"/>
<circle cx="294.8" cy="355.2" r="1.5" fill="#000"/>
<path d="M285.3 353.1V355.5" stroke="#000" stroke-width="1" fill="none"/>
<polyline points="293.6,350.2 310,348.9 325,347.4 340,345.5 355.8,342.2 372.8,338.2 381.3,335.6 388.6,335.6 398.4,336.6 405.7,334.9 412.9,333.1 416.4,330.6 418.7,330.4 419.6,340 421.1,355.5" fill="none" stroke="#000" stroke-width="1.2" stroke-linejoin="round"/>
<path d="M373.3 355.4L374.2 347.6M374.3 344.9L375 332.7M376.8 330L387.3 326.2M389.9 328.1L392.7 327L395.4 323.8L396.5 325.9M398.7 325.9L400.3 324.3L402 330.9M406.4 333.1L410.7 331.4M411.8 337.4L412.9 333.5L417.8 329.8M418.9 327.6L421.1 329.2L422.8 332L423.5 335.8M423.9 340.7L426.1 341.3L427.7 347.8M430.1 347.6L432.1 342.4L433.7 337.4M434.3 331.4L434.8 336.9M435.1 343.5L436.2 352.8" fill="none" stroke="#000" stroke-width="1.1" stroke-linejoin="round"/>
<polyline points="388.8,355.2 390.4,277.1 392.1,275.5 393.8,273.3 395.6,270.9 397.3,268.5 399.1,270.1 400.6,280.7 402.4,289.1 404.1,290.2 405.7,288.6 407.4,275.5 409.2,279.1 410.9,288.3 412.5,298.1 414.2,288.6 416,296.8 417.7,307.6 419.5,314.4 421,302.4 422.8,299.2 424.5,300 426.2,303.2 427.8,294.6 429.6,293.4 431.3,290.2 433,309.8 434.8,327.8 436.5,323.9 438.1,316.4 439.8,319.1 441.6,309.8 443.2,277.2 444.9,275.2 446.6,325.4 448.4,332.9 450.1,332.2 451.9,355.2" fill="none" stroke="#000" stroke-width="1.05" stroke-linejoin="round"/>
<path d="M388.7 355.6v4M387.4 358h2.6M390.3 277.5v4M389 279.9h2.6M392 275.9v4M390.7 278.3h2.6M393.7 273.7v4M392.4 276.1h2.6M395.5 271.3v4M394.2 273.7h2.6M397.2 268.9v4M395.9 271.3h2.6M399 270.5v4M397.7 272.9h2.6M400.5 281.1v4M399.2 283.5h2.6M402.3 289.5v4M401 291.9h2.6M404 290.6v4M402.7 293h2.6M405.6 289v4M404.3 291.4h2.6M407.3 275.9v4M406 278.3h2.6M409.1 279.5v4M407.8 281.9h2.6M410.8 288.7v4M409.5 291.1h2.6M412.4 298.5v4M411.1 300.9h2.6M414.1 289v4M412.8 291.4h2.6M415.9 297.2v4M414.6 299.6h2.6M417.6 308v4M416.3 310.4h2.6M419.4 314.8v4M418.1 317.2h2.6M420.9 302.8v4M419.6 305.2h2.6M422.7 299.6v4M421.4 302h2.6M424.4 300.4v4M423.1 302.8h2.6M426.1 303.6v4M424.8 306h2.6M427.7 295v4M426.4 297.4h2.6M429.5 293.8v4M428.2 296.2h2.6M431.2 290.6v4M429.9 293h2.6M432.9 310.2v4M431.6 312.6h2.6M434.7 328.2v4M433.4 330.6h2.6M436.4 324.3v4M435.1 326.7h2.6M438 316.8v4M436.7 319.2h2.6M439.7 319.5v4M438.4 321.9h2.6M441.5 310.2v4M440.2 312.6h2.6M443.1 277.6v4M441.8 280h2.6M444.8 275.6v4M443.5 278h2.6M446.5 325.8v4M445.2 328.2h2.6M448.3 333.3v4M447 335.7h2.6M450 332.6v4M448.7 335h2.6M451.8 355.6v4M450.5 358h2.6" stroke="#111" stroke-width="0.65" fill="none"/>
<circle cx="388.4" cy="354" r="1.55" fill="#f0f" stroke="#404" stroke-width="0.45"/>
<circle cx="390" cy="275.9" r="1.55" fill="#f0f" stroke="#404" stroke-width="0.45"/>
<circle cx="391.7" cy="274.3" r="1.55" fill="#f0f" stroke="#404" stroke-width="0.45"/>
<circle cx="393.4" cy="272.1" r="1.55" fill="#f0f" stroke="#404" stroke-width="0.45"/>
<circle cx="395.2" cy="269.7" r="1.55" fill="#f0f" stroke="#404" stroke-width="0.45"/>
<circle cx="396.9" cy="267.3" r="1.55" fill="#f0f" stroke="#404" stroke-width="0.45"/>
<circle cx="398.7" cy="268.9" r="1.55" fill="#f0f" stroke="#404" stroke-width="0.45"/>
<circle cx="400.2" cy="279.5" r="1.55" fill="#f0f" stroke="#404" stroke-width="0.45"/>
<circle cx="402" cy="287.9" r="1.55" fill="#f0f" stroke="#404" stroke-width="0.45"/>
<circle cx="403.7" cy="289" r="1.55" fill="#f0f" stroke="#404" stroke-width="0.45"/>
<circle cx="405.3" cy="287.4" r="1.55" fill="#f0f" stroke="#404" stroke-width="0.45"/>
<circle cx="407" cy="274.3" r="1.55" fill="#f0f" stroke="#404" stroke-width="0.45"/>
<circle cx="408.8" cy="277.9" r="1.55" fill="#f0f" stroke="#404" stroke-width="0.45"/>
<circle cx="410.5" cy="287.1" r="1.55" fill="#f0f" stroke="#404" stroke-width="0.45"/>
<circle cx="412.1" cy="296.9" r="1.55" fill="#f0f" stroke="#404" stroke-width="0.45"/>
<circle cx="413.8" cy="287.4" r="1.55" fill="#f0f" stroke="#404" stroke-width="0.45"/>
<circle cx="415.6" cy="295.6" r="1.55" fill="#f0f" stroke="#404" stroke-width="0.45"/>
<circle cx="417.3" cy="306.4" r="1.55" fill="#f0f" stroke="#404" stroke-width="0.45"/>
<circle cx="419.1" cy="313.2" r="1.55" fill="#f0f" stroke="#404" stroke-width="0.45"/>
<circle cx="420.6" cy="301.2" r="1.55" fill="#f0f" stroke="#404" stroke-width="0.45"/>
<circle cx="422.4" cy="298" r="1.55" fill="#f0f" stroke="#404" stroke-width="0.45"/>
<circle cx="424.1" cy="298.8" r="1.55" fill="#f0f" stroke="#404" stroke-width="0.45"/>
<circle cx="425.8" cy="302" r="1.55" fill="#f0f" stroke="#404" stroke-width="0.45"/>
<circle cx="427.4" cy="293.4" r="1.55" fill="#f0f" stroke="#404" stroke-width="0.45"/>
<circle cx="429.2" cy="292.2" r="1.55" fill="#f0f" stroke="#404" stroke-width="0.45"/>
<circle cx="430.9" cy="289" r="1.55" fill="#f0f" stroke="#404" stroke-width="0.45"/>
<circle cx="432.6" cy="308.6" r="1.55" fill="#f0f" stroke="#404" stroke-width="0.45"/>
<circle cx="434.4" cy="326.6" r="1.55" fill="#f0f" stroke="#404" stroke-width="0.45"/>
<circle cx="436.1" cy="322.7" r="1.55" fill="#f0f" stroke="#404" stroke-width="0.45"/>
<circle cx="437.7" cy="315.2" r="1.55" fill="#f0f" stroke="#404" stroke-width="0.45"/>
<circle cx="439.4" cy="317.9" r="1.55" fill="#f0f" stroke="#404" stroke-width="0.45"/>
<circle cx="441.2" cy="308.6" r="1.55" fill="#f0f" stroke="#404" stroke-width="0.45"/>
<circle cx="442.8" cy="276" r="1.55" fill="#f0f" stroke="#404" stroke-width="0.45"/>
<circle cx="444.5" cy="274" r="1.55" fill="#f0f" stroke="#404" stroke-width="0.45"/>
<circle cx="446.2" cy="324.2" r="1.55" fill="#f0f" stroke="#404" stroke-width="0.45"/>
<circle cx="448" cy="331.7" r="1.55" fill="#f0f" stroke="#404" stroke-width="0.45"/>
<circle cx="449.7" cy="331" r="1.55" fill="#f0f" stroke="#404" stroke-width="0.45"/>
<circle cx="451.5" cy="354" r="1.55" fill="#f0f" stroke="#404" stroke-width="0.45"/>
</g>
<text transform="translate(246.8 289) rotate(-90)" font-family="Liberation Sans,Arial,sans-serif" font-size="6.8" fill="#333">Y Data</text>
<g>
<rect x="521.8" y="229.5" width="107.7" height="71" fill="#fff" stroke="#4a4a4a" stroke-width="1"/>
<path d="M528.5 242.6H556" stroke="#222" stroke-width="0.8"/><circle cx="541.9" cy="242.6" r="3.1" fill="#000"/>
<path d="M528.5 257.7H556" stroke="#000" stroke-width="1.1"/>
<path d="M528.5 272.3H539.5M543 272.3H551.6" stroke="#000" stroke-width="1.1"/>
<path d="M528.5 286.9H556" stroke="#000" stroke-width="1.1"/>
<path d="M542.2 287.3v4M540.9 289.7h2.6" stroke="#000" stroke-width="0.7"/><circle cx="541.9" cy="285.7" r="1.55" fill="#f0f" stroke="#404" stroke-width="0.45"/>
<text class="s" x="562.8" y="246.1" font-size="10.4" stroke="#222" stroke-width="0.15">Egg</text>
<text class="s" x="562.8" y="261.2" font-size="10.4" stroke="#222" stroke-width="0.15">Larva</text>
<text class="s" x="562.8" y="276.2" font-size="10.4" stroke="#222" stroke-width="0.15">Pupa</text>
<text class="s" x="562.8" y="290.9" font-size="10.4" stroke="#222" stroke-width="0.15">Adult Female</text>
</g>
<text class="s" x="374" y="407.7" text-anchor="middle" font-size="13.3" font-weight="bold">Age (day)</text>
<text class="s" transform="translate(9.2 260.2) rotate(-90)" font-size="13.3" font-weight="bold">Reproductive value (<tspan font-style="italic" font-weight="normal" font-size="12.5" dx="0.7">v</tspan><tspan font-style="italic" font-size="13.3" dx="1.3" dy="3.6">xj</tspan><tspan dx="0.9" dy="-3.6">)</tspan></text>
</svg></body></html>
